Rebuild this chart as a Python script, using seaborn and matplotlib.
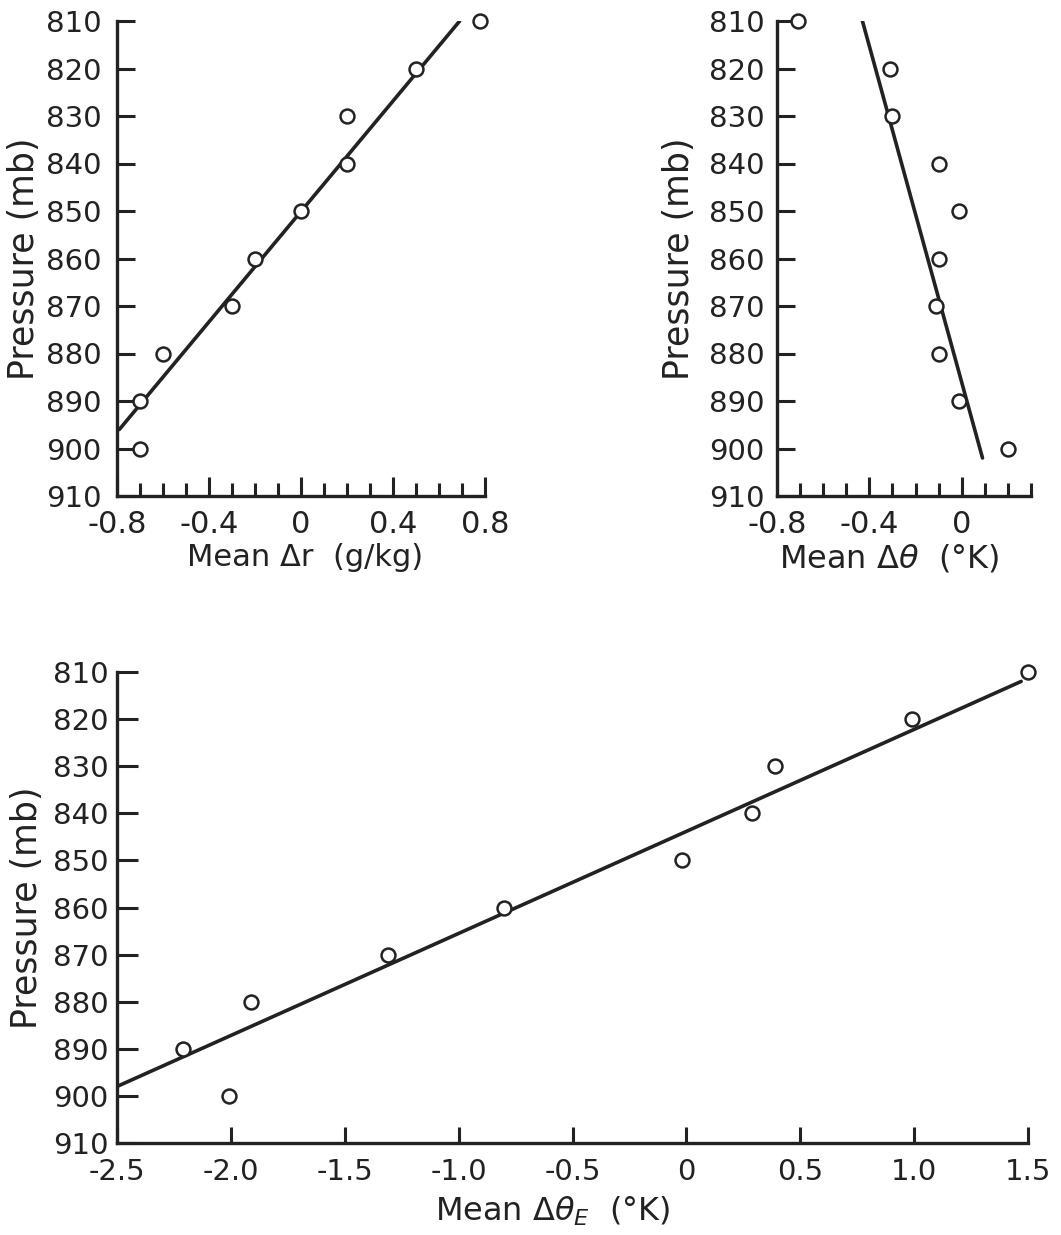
import numpy as np
import pandas as pd
import seaborn as sns
from matplotlib import pyplot as plt
from matplotlib.ticker import MultipleLocator

# pressure levels (mb), same for the three panels
pressure = [810, 820, 830, 840, 850, 860, 870, 880, 890, 900]
p_ticks = [810, 820, 830, 840, 850, 860, 870, 880, 890, 900, 910]

# mean delta r (g/kg), mean delta theta (K), mean delta theta_E (K)
dr = [0.78, 0.50, 0.20, 0.20, 0.00, -0.20, -0.30, -0.60, -0.70, -0.70]
dtheta = [-0.71, -0.31, -0.30, -0.10, -0.01, -0.10, -0.11, -0.10, -0.01, 0.20]
dthetae = [1.50, 0.99, 0.39, 0.29, -0.02, -0.80, -1.31, -1.91, -2.21, -2.01]

# hand drawn fit lines (end points)
dr_fit_x = [-0.79, 0.69]
dr_fit_p = [896, 810]
dtheta_fit_x = [-0.43, 0.09]
dtheta_fit_p = [810, 902]
dthetae_fit_x = [-2.5, 1.47]
dthetae_fit_p = [898, 812]

dr_ticks = [-0.8, -0.4, 0, 0.4, 0.8]
dr_ticklabels = ["-0.8", "-0.4", "0", "0.4", "0.8"]
dtheta_ticks = [-0.8, -0.4, 0]
dtheta_ticklabels = ["-0.8", "-0.4", "0"]
dthetae_ticks = [-2.5, -2.0, -1.5, -1.0, -0.5, 0, 0.5, 1.0, 1.5]
dthetae_ticklabels = ["-2.5", "-2.0", "-1.5", "-1.0", "-0.5", "0", "0.5", "1.0", "1.5"]

sns.set_theme(style="ticks")
plt.rcParams["font.family"] = "DejaVu Sans"
plt.rcParams["mathtext.fontset"] = "dejavusans"
plt.rcParams["axes.unicode_minus"] = False

ink = "#222222"
W, H = 1061, 1235


def panel(rect, x, fit_x, fit_p, xlim, ticks, ticklabels, xlabel, xlab_xy, ylab_x,
          minor=None, ylen=13, xlen=14, ypad=11, xpad=10, xsize=22, xlsize=22):
    # rect in pixels: left, top, right, bottom
    l, t, r, b = rect
    ax = fig.add_axes([l / W, 1 - b / H, (r - l) / W, (b - t) / H])
    sns.lineplot(x=fit_x, y=fit_p, ax=ax, color=ink, lw=2.6, sort=False,
                 estimator=None, zorder=2)
    sns.scatterplot(x=x, y=pressure, ax=ax, s=100, color="white", edgecolor=ink,
                    linewidth=1.8, clip_on=False, zorder=3)
    ax.set_xlim(*xlim)
    ax.set_ylim(910, 810)
    ax.set_yticks(p_ticks)
    ax.set_yticklabels([str(p) for p in p_ticks])
    ax.set_xticks(ticks)
    ax.set_xticklabels(ticklabels)
    if minor:
        ax.xaxis.set_minor_locator(MultipleLocator(minor))
    for s in ["top", "right"]:
        ax.spines[s].set_visible(False)
    for s in ["left", "bottom"]:
        ax.spines[s].set_linewidth(2.4)
        ax.spines[s].set_color(ink)
    ax.tick_params(axis="y", which="major", direction="in", length=ylen, width=2.2,
                   color=ink, labelsize=21, pad=ypad, labelcolor=ink)
    ax.tick_params(axis="x", which="major", direction="in", length=xlen, width=2.2,
                   color=ink, labelsize=xsize, pad=xpad, labelcolor=ink)
    ax.tick_params(axis="x", which="minor", direction="in", length=xlen * 0.65,
                   width=2.2, color=ink)
    ax.set_xlabel(xlabel, fontsize=xlsize, color=ink, va="center")
    ax.xaxis.set_label_coords((xlab_xy[0] - l) / (r - l), (b - xlab_xy[1]) / (b - t))
    ax.set_ylabel("Pressure (mb)", fontsize=25, color=ink, va="center")
    ax.yaxis.set_label_coords((ylab_x - l) / (r - l), 0.5)
    return ax


fig = plt.figure(figsize=(W / 100, H / 100), dpi=100)
fig.patch.set_facecolor("white")

panel((117, 21, 485, 496), dr, dr_fit_x, dr_fit_p, (-0.8, 0.8), dr_ticks,
      dr_ticklabels, "Mean Δr  (g/kg)", (305, 558), 24, minor=0.1)
panel((777, 21, 1031, 496), dtheta, dtheta_fit_x, dtheta_fit_p, (-0.8, 0.3),
      dtheta_ticks, dtheta_ticklabels, r"Mean $\Delta\theta$  (°K)", (889, 558), 679,
      minor=0.1, ypad=9, xlsize=23)
panel((117, 672, 1028, 1143), dthetae, dthetae_fit_x, dthetae_fit_p, (-2.5, 1.5),
      dthetae_ticks, dthetae_ticklabels, r"Mean $\Delta\theta_E$  (°K)", (553, 1211), 27,
      ylen=15, xlen=11.5, ypad=6, xpad=11, xsize=21, xlsize=23)

fig.savefig("out.png", dpi=100, facecolor="white")
